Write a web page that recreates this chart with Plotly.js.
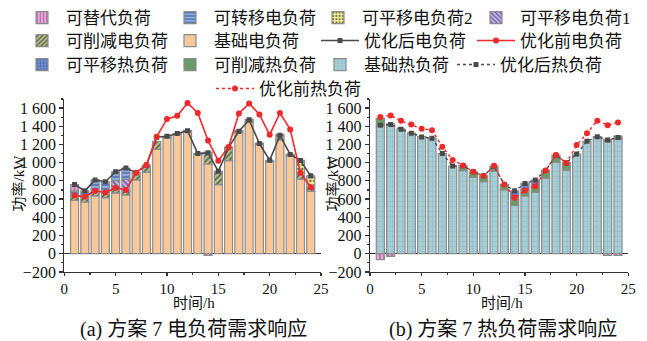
<!DOCTYPE html>
<html>
<head>
<meta charset="utf-8">
<script src="https://cdn.plot.ly/plotly-3.0.1.min.js"></script>
<style>html,body{margin:0;padding:0;background:#fff;}#chart{width:647px;height:341px;}</style>
</head>
<body>
<div id="chart"></div>
<script>
// ---------- data ----------
const hours = [1,2,3,4,5,6,7,8,9,10,11,12,13,14,15,16,17,18,19,20,21,22,23,24];

// electric load (kW)
const elecBase     = [585,570,635,615,668,645,810,893,1145,1275,1310,1335,1090,985,757,1022,1330,1442,1198,1012,1250,1077,820,685];
const elecCut      = [45,45,35,50,35,45,80,80,88,15,10,20,12,130,148,150,25,33,18,13,60,18,55,45];
const elecShift2   = [0,0,0,0,0,0,0,0,0,0,0,0,0,0,0,0,0,0,0,0,0,0,130,105];
const elecShift1   = [0,30,0,0,100,130,0,0,0,0,0,0,0,0,0,0,0,0,0,0,0,0,20,0];
const elecTransfer = [60,45,140,125,97,120,0,0,0,0,0,0,0,0,0,0,0,0,0,0,0,0,0,0];
const elecSubst    = [70,0,0,0,0,0,0,0,0,0,0,0,0,-20,0,0,0,0,0,0,0,0,0,20];
const elecAfter    = [760,690,810,790,900,940,890,973,1280,1290,1320,1350,1100,1110,905,1165,1345,1470,1210,1025,1300,1090,1023,855];
const elecBefore   = [640,625,692,672,725,700,890,975,1285,1478,1515,1655,1545,1242,1022,1172,1540,1650,1530,1305,1545,1365,888,730];

// heat load (kW)
const heatBase   = [1400,1425,1370,1325,1285,1270,1100,963,913,840,790,905,700,530,635,675,830,1003,918,1095,1235,1285,1230,1260];
const heatCut    = [87,0,0,0,0,0,0,0,55,60,65,57,60,60,57,58,85,80,85,0,0,0,25,32];
const heatShift  = [0,0,0,0,0,0,0,0,0,0,0,0,0,100,80,75,0,0,0,0,0,0,0,0];
const heatSubst  = [-65,-30,0,0,0,0,0,0,0,0,0,0,0,0,0,0,0,0,0,0,0,0,-20,-20];
const heatAfter  = [1410,1420,1368,1322,1282,1268,1100,962,965,900,855,960,760,690,770,810,915,1080,1000,1095,1235,1285,1250,1275];
const heatBefore = [1500,1518,1460,1420,1372,1357,1175,1030,970,900,855,965,760,614,695,742,915,1085,995,1193,1322,1461,1412,1442];

const names = {
  subst:'可替代负荷', transfer:'可转移电负荷', shift2:'可平移电负荷2', shift1:'可平移电负荷1',
  cutE:'可削减电负荷', baseE:'基础电负荷', afterE:'优化后电负荷', beforeE:'优化前电负荷',
  shiftH:'可平移热负荷', cutH:'可削减热负荷', baseH:'基础热负荷', afterH:'优化后热负荷', beforeH:'优化前热负荷'
};
const captionA = '(a) 方案 7 电负荷需求响应';
const captionB = '(b) 方案 7 热负荷需求响应';
const yTitle = '功率/kW';
const xTitle = '时间/h';

// ---------- chart ----------
const FONT = '"Liberation Serif", "Noto Sans CJK SC", serif';
const nz = a => a.map(v => v === 0 ? null : v);
const BAR_LINE = {color:'#8c8c8c', width:1.2};
const BW = 0.78;

function bar(y, name, xa, ya, leg, color, pattern, show) {
  const m = {color: color, line: BAR_LINE};
  if (pattern) m.pattern = pattern;
  return {type:'bar', x:hours, y:nz(y), name:name, xaxis:xa, yaxis:ya, width:BW,
          marker:m, legend:leg, showlegend:show !== false, hoverinfo:'x+y+name'};
}

const pSubst    = {shape:'|', bgcolor:'#E4AADA', fgcolor:'#A8609E', size:4, solidity:0.35};
const pTransfer = {shape:'-', bgcolor:'#8FB0E6', fgcolor:'#4666A8', size:4, solidity:0.35};
const pShift2   = {shape:'.', bgcolor:'#F4F0A2', fgcolor:'#6E6E30', size:4, solidity:0.35};
const pShift1   = {shape:'\\', bgcolor:'#C4B4E2', fgcolor:'#5E4E98', size:4, solidity:0.35};
const pCutE     = {shape:'/', bgcolor:'#B4BC94', fgcolor:'#4E5630', size:4, solidity:0.35};
const pShiftH   = {shape:'+', bgcolor:'#7896D4', fgcolor:'#3A5296', size:4, solidity:0.3};
const pBaseH    = {shape:'+', bgcolor:'#A6CED6', fgcolor:'#8DBAC4', size:5, solidity:0.2};

const traces = [
  // electric stack (bottom -> top)
  bar(elecBase, names.baseE, 'x', 'y', 'legend6', '#F8C89A', null),
  bar(elecCut, names.cutE, 'x', 'y', 'legend5', '#B4BC94', pCutE),
  bar(elecShift2, names.shift2, 'x', 'y', 'legend3', '#F4F0A2', pShift2),
  bar(elecShift1, names.shift1, 'x', 'y', 'legend4', '#C4B4E2', pShift1),
  bar(elecTransfer, names.transfer, 'x', 'y', 'legend2', '#8FB0E6', pTransfer),
  bar(elecSubst, names.subst, 'x', 'y', 'legend', '#E4AADA', pSubst),
  {type:'scatter', mode:'lines+markers', x:hours, y:elecAfter, name:names.afterE, xaxis:'x', yaxis:'y',
   line:{color:'#4a4a4a', width:1.6}, marker:{symbol:'square', size:5, color:'#4a4a4a'}, legend:'legend7'},
  {type:'scatter', mode:'lines+markers', x:hours, y:elecBefore, name:names.beforeE, xaxis:'x', yaxis:'y',
   line:{color:'#EE2A2A', width:1.6}, marker:{symbol:'circle', size:6, color:'#EE2A2A'}, legend:'legend8'},
  // heat stack
  bar(heatBase, names.baseH, 'x2', 'y2', 'legend11', '#A6CED6', pBaseH),
  bar(heatCut, names.cutH, 'x2', 'y2', 'legend10', '#6A9A68', null),
  bar(heatShift, names.shiftH, 'x2', 'y2', 'legend9', '#7896D4', pShiftH),
  bar(heatSubst, names.subst, 'x2', 'y2', 'legend', '#E4AADA', pSubst, false),
  {type:'scatter', mode:'lines+markers', x:hours, y:heatAfter, name:names.afterH, xaxis:'x2', yaxis:'y2',
   line:{color:'#4a4a4a', width:1.4, dash:'dot'}, marker:{symbol:'square', size:5, color:'#4a4a4a'}, legend:'legend12'},
  {type:'scatter', mode:'lines+markers', x:hours, y:heatBefore, name:names.beforeH, xaxis:'x2', yaxis:'y2',
   line:{color:'#EE2A2A', width:1.4, dash:'dot'}, marker:{symbol:'circle', size:6, color:'#EE2A2A'}, legend:'legend13'}
];

const W = 647, H = 341;
function legendAt(leftPx, centerYPx) {
  return {x:leftPx / W, y:1 - centerYPx / H, xanchor:'left', yanchor:'middle', orientation:'v',
          bgcolor:'rgba(0,0,0,0)', borderwidth:0, itemwidth:38,
          font:{family:FONT, size:17, color:'#111'}, traceorder:'normal'};
}

function xAxis(domain, anchor) {
  return {domain:domain, anchor:anchor, range:[0,25], tick0:0, dtick:5, ticks:'outside', ticklen:3, tickwidth:1.2,
          tickcolor:'#333', showline:true, linecolor:'#333', linewidth:1.2, showgrid:false, zeroline:false,
          minor:{dtick:2.5, ticks:'outside', ticklen:2, tickcolor:'#333', showgrid:false},
          tickfont:{family:FONT, size:15, color:'#111'}, fixedrange:true};
}
function yAxis(domain, anchor) {
  return {domain:domain, anchor:anchor, range:[-200,1700], tick0:0, dtick:200, ticks:'outside', ticklen:4, tickwidth:1.2,
          tickcolor:'#333', showline:true, linecolor:'#333', linewidth:1.2, showgrid:false,
          zeroline:true, zerolinecolor:'#333', zerolinewidth:1.2, separatethousands:true,
          minor:{dtick:100, ticks:'outside', ticklen:2, tickcolor:'#333', showgrid:false},
          tickfont:{family:FONT, size:16, color:'#111'}, fixedrange:true};
}

function ann(text, xPx, yPx, size, angle) {
  return {text:text, x:xPx / W, y:1 - yPx / H, xref:'paper', yref:'paper', showarrow:false,
          xanchor:'center', yanchor:'middle', textangle:angle || 0,
          font:{family:FONT, size:size, color:'#111'}};
}

const yDom = [1 - 271.7 / H, 1 - 98.2 / H];
const layout = {
  width:W, height:H, margin:{l:0, r:0, t:0, b:0}, paper_bgcolor:'#fff', plot_bgcolor:'#fff',
  barmode:'relative', separators:'. ', font:{family:FONT, size:16, color:'#111'},
  xaxis: xAxis([64.3 / W, 321 / W], 'y'),
  yaxis: yAxis(yDom, 'x'),
  xaxis2: xAxis([370 / W, 628.3 / W], 'y2'),
  yaxis2: yAxis(yDom, 'x2'),
  legend:   legendAt(18, 17),
  legend2:  legendAt(166, 17),
  legend3:  legendAt(314, 17),
  legend4:  legendAt(472, 17),
  legend5:  legendAt(18, 41),
  legend6:  legendAt(166, 41),
  legend7:  legendAt(316, 41),
  legend8:  legendAt(472, 41),
  legend9:  legendAt(18, 65),
  legend10: legendAt(166, 65),
  legend11: legendAt(316, 65),
  legend12: legendAt(452, 65),
  legend13: legendAt(211, 89),
  annotations: [
    ann(yTitle, 19, 183, 15, -90),
    ann(yTitle, 333, 183, 15, -90),
    ann(xTitle, 194, 303, 15),
    ann(xTitle, 502, 303, 15),
    ann(captionA, 193, 329, 20),
    ann(captionB, 503, 329, 20)
  ]
};

Plotly.newPlot('chart', traces, layout, {displayModeBar:false, staticPlot:true});
</script>
</body>
</html>
